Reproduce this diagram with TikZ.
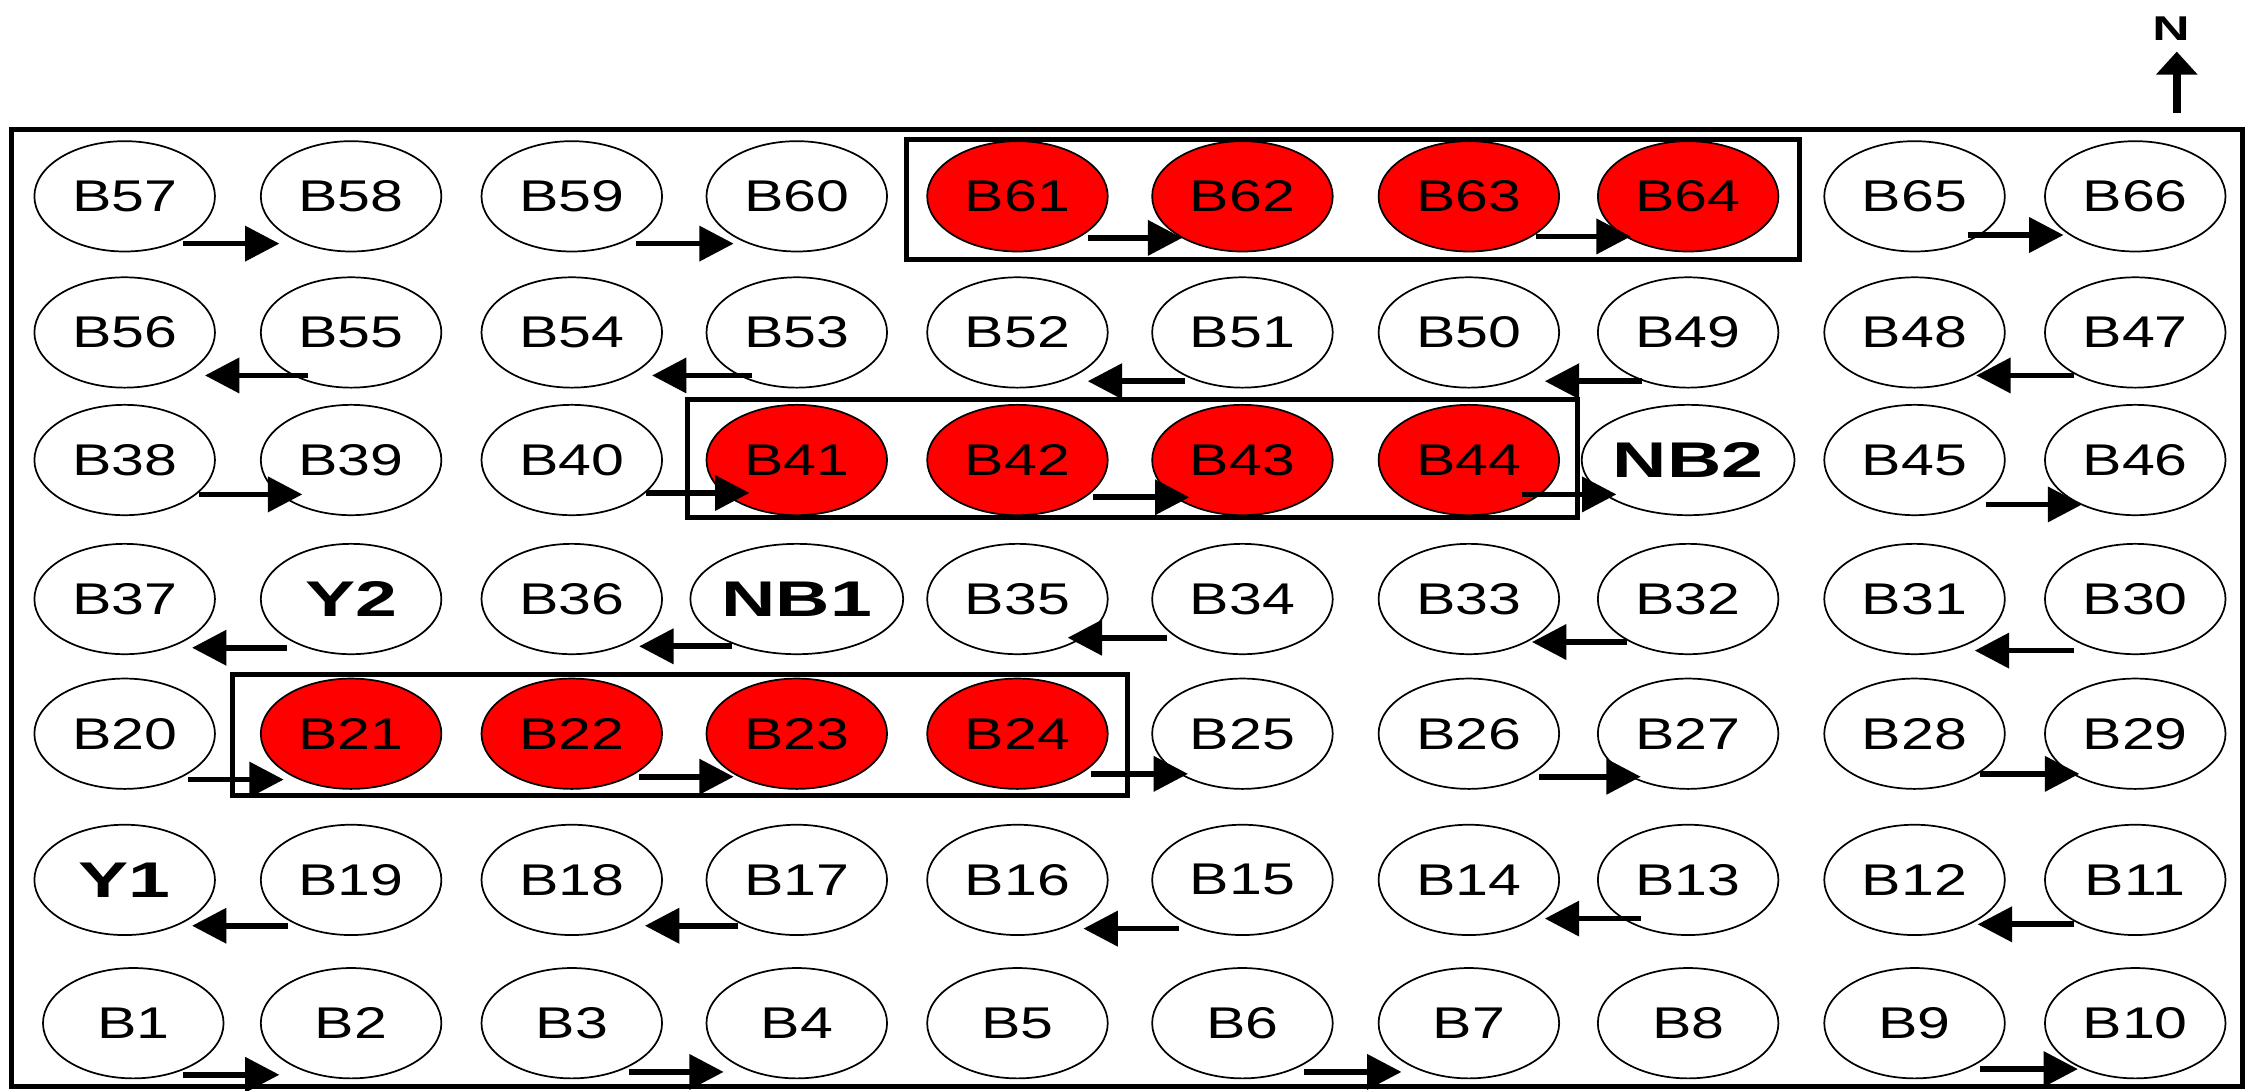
\documentclass[tikz,border=0pt]{standalone}
\usepackage{fontspec}
\setmainfont{Liberation Sans}[FakeStretch=1.33]
\newfontfamily\boldlbl{Liberation Sans}[FakeStretch=1.5]
\usetikzlibrary{arrows.meta,calc,shapes.geometric}
\tikzset{
  bnode/.style={ellipse, draw=black, line width=0.6pt, minimum width=63pt, minimum height=38.5pt, inner sep=0pt, font=\fontsize{15.5pt}{15.5pt}\selectfont},
  rnode/.style={bnode, fill=red},
  knode/.style={bnode, font=\boldlbl\bfseries\fontsize{17.5pt}{17.5pt}\selectfont},
  arr/.style={line width=2pt, -{Triangle[length=12pt,width=12pt]}},
  grp/.style={draw=black, line width=1.75pt},
}
\begin{document}
\begin{tikzpicture}[x=0.5pt,y=-0.5pt]
\useasboundingbox (0,0) rectangle (1568,761);
% frame
\draw[grp] (8,90.5) rectangle (1565,758.5);
% north arrow
\node[font=\boldlbl\bfseries\fontsize{12pt}{12pt}\selectfont, inner sep=0pt] (north) at (1515,20) {N};
\coordinate (nS) at (1519,79);
\coordinate (nT) at (1519,36);
\draw[line width=3pt, -{Triangle[length=8pt,width=14pt]}] (nS) -- (nT);
% row 1
\node[bnode] (B57) at (87,137) {B57};
\node[bnode] (B58) at (245,137) {B58};
\node[bnode] (B59) at (399,137) {B59};
\node[bnode] (B60) at (556,137) {B60};
\node[rnode] (B61) at (710,137) {B61};
\node[rnode] (B62) at (867,137) {B62};
\node[rnode] (B63) at (1025,137) {B63};
\node[rnode] (B64) at (1178,137) {B64};
\node[bnode] (B65) at (1336,137) {B65};
\node[bnode] (B66) at (1490,137) {B66};
% row 2
\node[bnode] (B56) at (87,232) {B56};
\node[bnode] (B55) at (245,232) {B55};
\node[bnode] (B54) at (399,232) {B54};
\node[bnode] (B53) at (556,232) {B53};
\node[bnode] (B52) at (710,232) {B52};
\node[bnode] (B51) at (867,232) {B51};
\node[bnode] (B50) at (1025,232) {B50};
\node[bnode] (B49) at (1178,232) {B49};
\node[bnode] (B48) at (1336,232) {B48};
\node[bnode] (B47) at (1490,232) {B47};
% row 3
\node[bnode] (B38) at (87,321) {B38};
\node[bnode] (B39) at (245,321) {B39};
\node[bnode] (B40) at (399,321) {B40};
\node[rnode] (B41) at (556,321) {B41};
\node[rnode] (B42) at (710,321) {B42};
\node[rnode] (B43) at (867,321) {B43};
\node[rnode] (B44) at (1025,321) {B44};
\node[knode] (NB2) at (1178,321) {NB2};
\node[bnode] (B45) at (1336,321) {B45};
\node[bnode] (B46) at (1490,321) {B46};
% row 4
\node[bnode] (B37) at (87,418) {B37};
\node[knode] (Y2) at (245,418) {Y2};
\node[bnode] (B36) at (399,418) {B36};
\node[knode] (NB1) at (556,418) {NB1};
\node[bnode] (B35) at (710,418) {B35};
\node[bnode] (B34) at (867,418) {B34};
\node[bnode] (B33) at (1025,418) {B33};
\node[bnode] (B32) at (1178,418) {B32};
\node[bnode] (B31) at (1336,418) {B31};
\node[bnode] (B30) at (1490,418) {B30};
% row 5
\node[bnode] (B20) at (87,512) {B20};
\node[rnode] (B21) at (245,512) {B21};
\node[rnode] (B22) at (399,512) {B22};
\node[rnode] (B23) at (556,512) {B23};
\node[rnode] (B24) at (710,512) {B24};
\node[bnode] (B25) at (867,512) {B25};
\node[bnode] (B26) at (1025,512) {B26};
\node[bnode] (B27) at (1178,512) {B27};
\node[bnode] (B28) at (1336,512) {B28};
\node[bnode] (B29) at (1490,512) {B29};
% row 6
\node[knode] (Y1) at (87,614) {Y1};
\node[bnode] (B19) at (245,614) {B19};
\node[bnode] (B18) at (399,614) {B18};
\node[bnode] (B17) at (556,614) {B17};
\node[bnode] (B16) at (710,614) {B16};
\node[bnode] (B15) at (867,614) {B15};
\node[bnode] (B14) at (1025,614) {B14};
\node[bnode] (B13) at (1178,614) {B13};
\node[bnode] (B12) at (1336,614) {B12};
\node[bnode] (B11) at (1490,614) {B11};
% row 7
\node[bnode] (B1) at (93,714) {B1};
\node[bnode] (B2) at (245,714) {B2};
\node[bnode] (B3) at (399,714) {B3};
\node[bnode] (B4) at (556,714) {B4};
\node[bnode] (B5) at (710,714) {B5};
\node[bnode] (B6) at (867,714) {B6};
\node[bnode] (B7) at (1025,714) {B7};
\node[bnode] (B8) at (1178,714) {B8};
\node[bnode] (B9) at (1336,714) {B9};
\node[bnode] (B10) at (1490,714) {B10};
% group boxes
\draw[grp] (632.5,97.5) rectangle (1255.5,181);
\draw[grp] (480,279) rectangle (1101,361);
\draw[grp] (162.5,470.5) rectangle (786.5,555);
% arrows row 1
\draw[arr] ($(B57)+(41,33)$) -- ($(B58)+(-50,33)$);
\draw[arr] ($(B59)+(45,33)$) -- ($(B60)+(-44,33)$);
\draw[arr] ($(B61)+(49,29)$) -- ($(B62)+(-42,29)$);
\draw[arr] ($(B63)+(47,28)$) -- ($(B64)+(-40,28)$);
\draw[arr] ($(B65)+(37,27)$) -- ($(B66)+(-50,27)$);
% arrows row 2
\draw[arr] ($(B55)+(-30,30)$) -- ($(B56)+(56,30)$);
\draw[arr] ($(B53)+(-31,30)$) -- ($(B54)+(56,30)$);
\draw[arr] ($(B51)+(-40,34)$) -- ($(B52)+(49,34)$);
\draw[arr] ($(B49)+(-32,34)$) -- ($(B50)+(53,34)$);
\draw[arr] ($(B47)+(-43,30)$) -- ($(B48)+(43,30)$);
% arrows row 3
\draw[arr] ($(B38)+(52,24)$) -- ($(B39)+(-34,24)$);
\draw[arr] ($(B40)+(52,23)$) -- ($(B41)+(-33,23)$);
\draw[arr] ($(B42)+(53,26)$) -- ($(B43)+(-37,26)$);
\draw[arr] ($(B44)+(37,24)$) -- ($(NB2)+(-50,24)$);
\draw[arr] ($(B45)+(50,31)$) -- ($(B46)+(-37,31)$);
% arrows row 4
\draw[arr] ($(Y2)+(-45,34)$) -- ($(B37)+(47,34)$);
\draw[arr] ($(NB1)+(-45,33)$) -- ($(B36)+(47,33)$);
\draw[arr] ($(B34)+(-53,27)$) -- ($(B35)+(35,27)$);
\draw[arr] ($(B32)+(-43,30)$) -- ($(B33)+(44,30)$);
\draw[arr] ($(B30)+(-43,36)$) -- ($(B31)+(42,36)$);
% arrows row 5
\draw[arr] ($(B20)+(44,32)$) -- ($(B21)+(-47,32)$);
\draw[arr] ($(B22)+(47,30)$) -- ($(B23)+(-44,30)$);
\draw[arr] ($(B24)+(51,28)$) -- ($(B25)+(-38,28)$);
\draw[arr] ($(B26)+(49,30)$) -- ($(B27)+(-33,30)$);
\draw[arr] ($(B28)+(46,28)$) -- ($(B29)+(-39,28)$);
% arrows row 6
\draw[arr] ($(B19)+(-44,32)$) -- ($(Y1)+(47,32)$);
\draw[arr] ($(B17)+(-41,32)$) -- ($(B18)+(51,32)$);
\draw[arr] ($(B15)+(-44,34)$) -- ($(B16)+(46,34)$);
\draw[arr] ($(B13)+(-33,27)$) -- ($(B14)+(53,27)$);
\draw[arr] ($(B11)+(-43,31)$) -- ($(B12)+(44,31)$);
% arrows row 7
\draw[arr] ($(B1)+(35,36)$) -- ($(B2)+(-50,36)$);
\draw[arr] ($(B3)+(40,34)$) -- ($(B4)+(-51,34)$);
\draw[arr] ($(B6)+(43,34)$) -- ($(B7)+(-47,34)$);
\draw[arr] ($(B9)+(46,32)$) -- ($(B10)+(-40,32)$);
\end{tikzpicture}
\end{document}
